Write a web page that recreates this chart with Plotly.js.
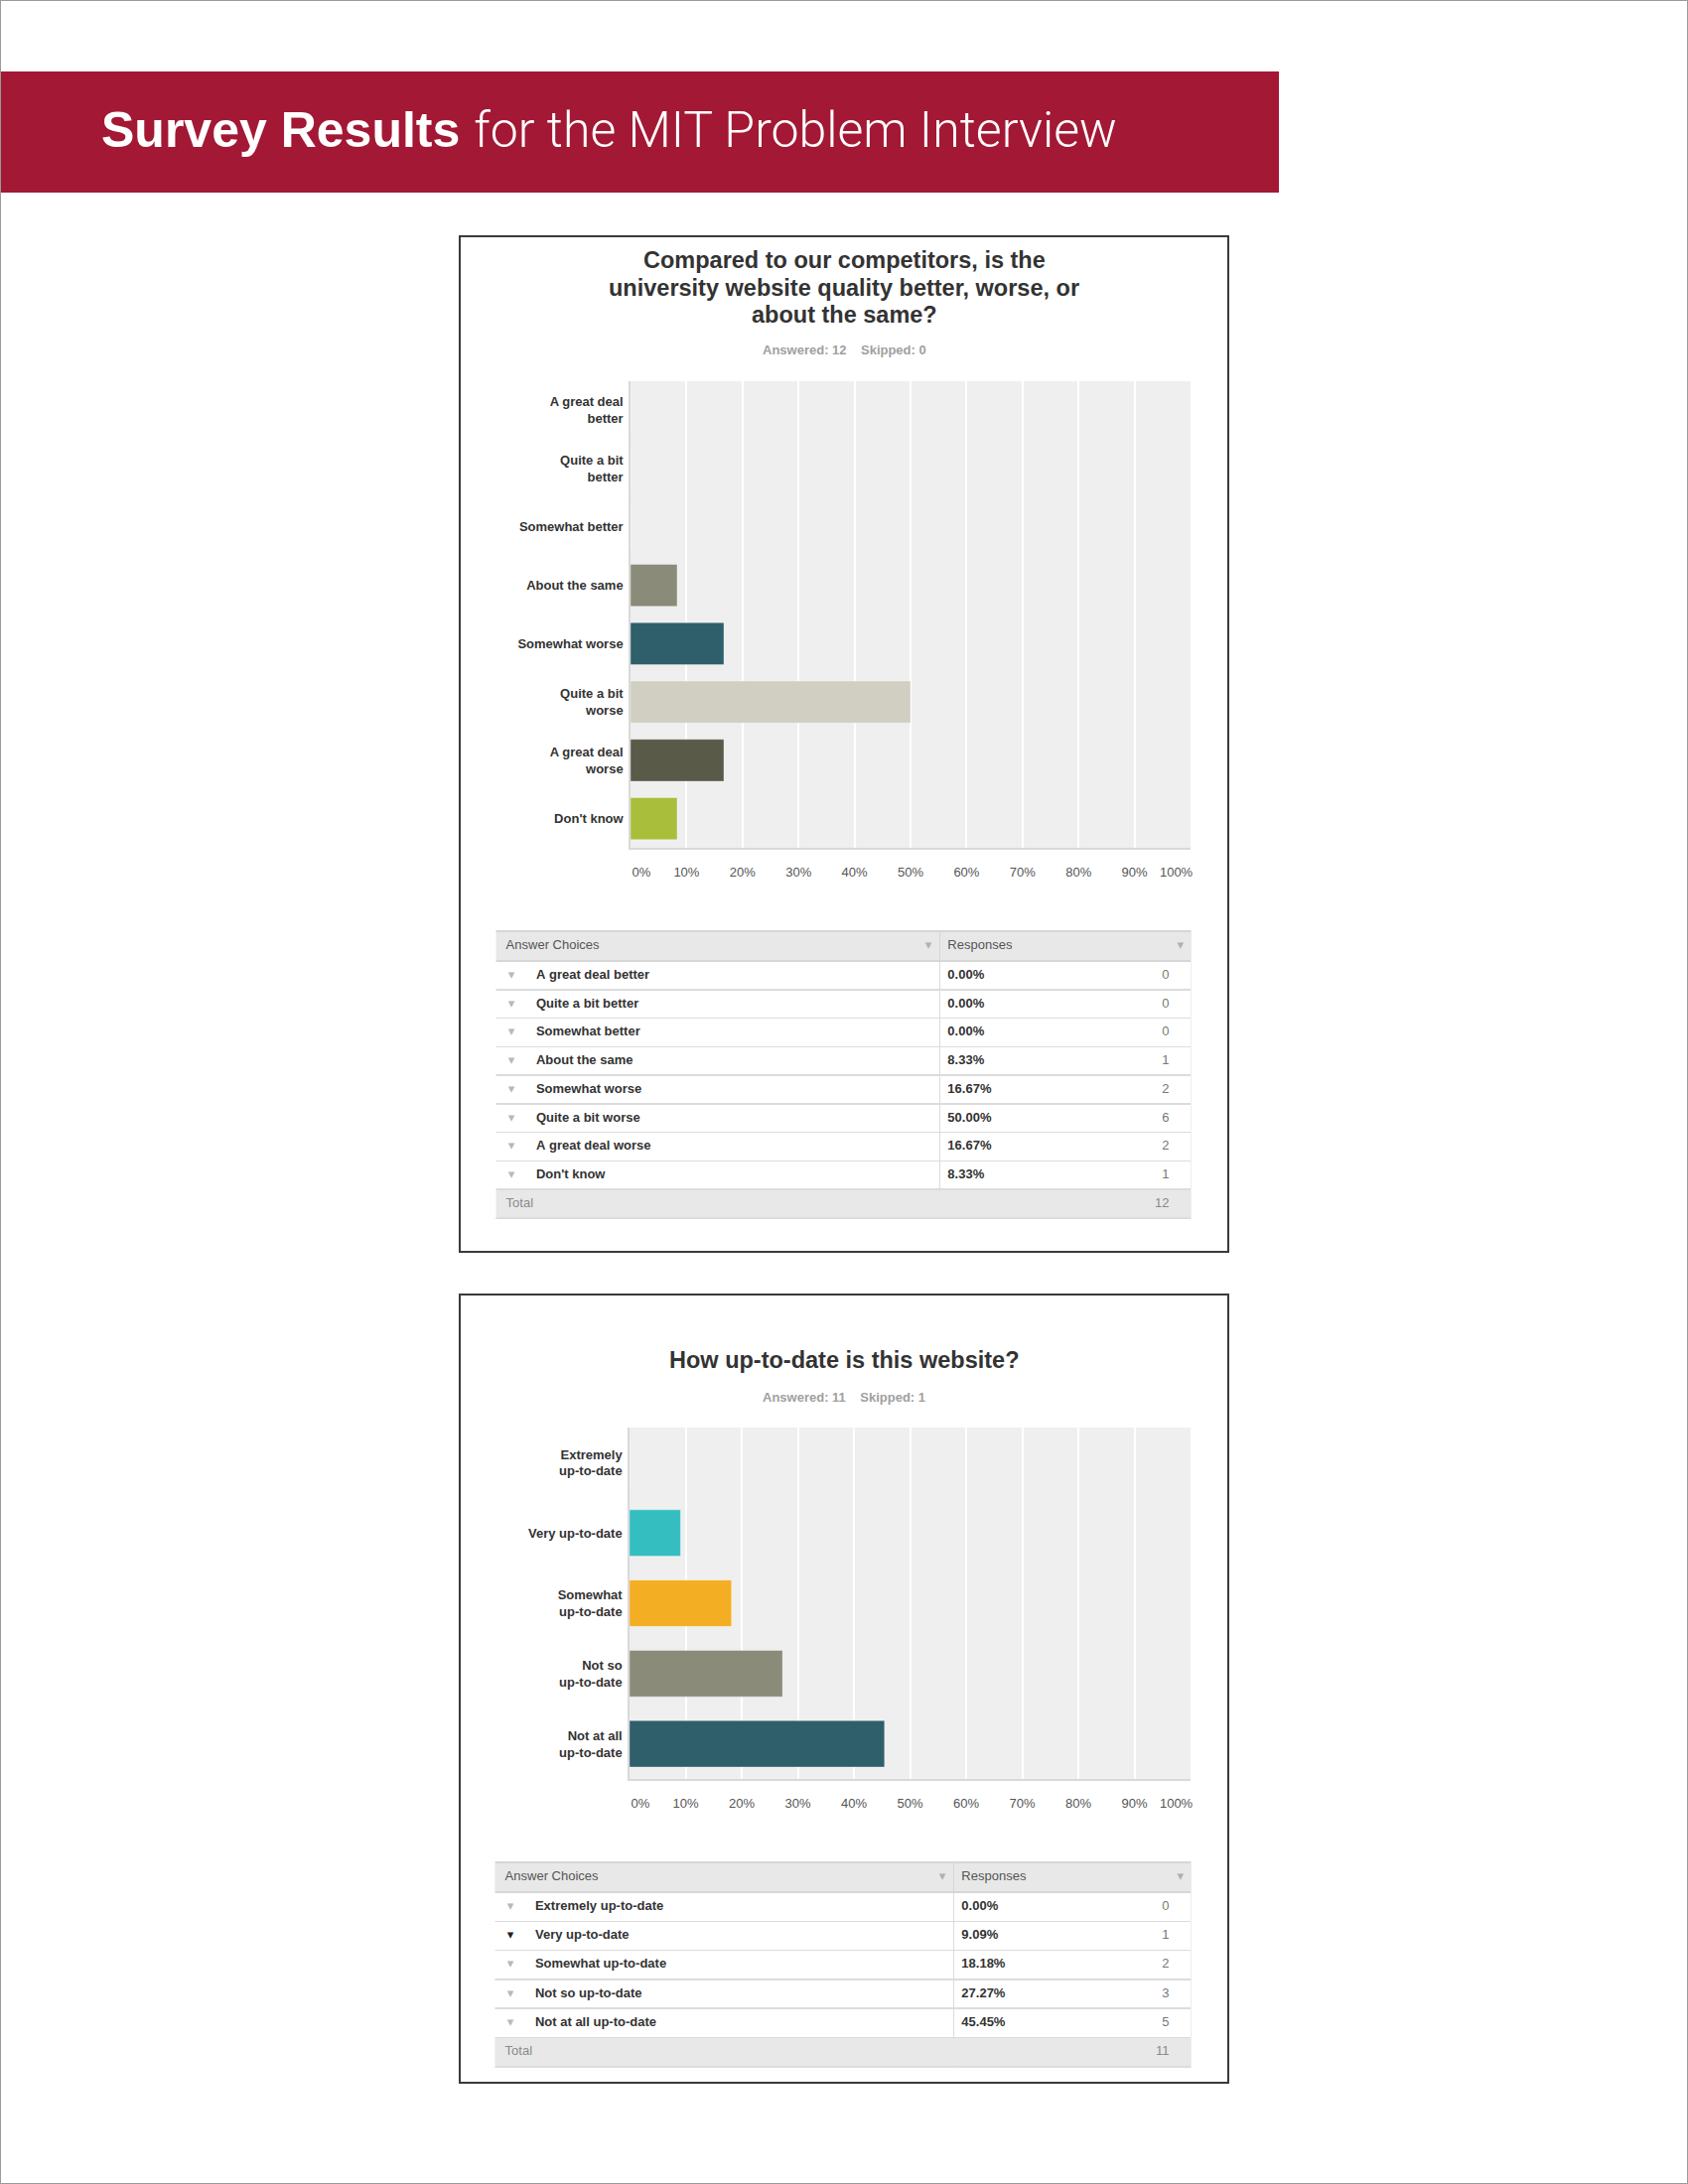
<!DOCTYPE html>
<html>
<head>
<meta charset="utf-8">
<script src="https://cdn.plot.ly/plotly-3.0.1.min.js"></script>
<style>
  html, body { margin: 0; padding: 0; background: #ffffff; }
  #chart { width: 1700px; height: 2200px; }
</style>
</head>
<body>
<div id="chart"></div>
<script>
// ---------------- DATA ----------------
const bannerBold = "Survey Results";
const bannerLight = "for the MIT Problem Interview";

const q1Title = ["Compared to our competitors, is the", "university website quality better, worse, or", "about the same?"];
const q1Answered = 12;
const q1Skipped = 0;
const q1Choices = ["A great deal better", "Quite a bit better", "Somewhat better", "About the same",
                   "Somewhat worse", "Quite a bit worse", "A great deal worse", "Don't know"];
const q1TickLabels = ["A great deal<br>better", "Quite a bit<br>better", "Somewhat better", "About the same",
                      "Somewhat worse", "Quite a bit<br>worse", "A great deal<br>worse", "Don't know"];
const q1Percent = [0.00, 0.00, 0.00, 8.33, 16.67, 50.00, 16.67, 8.33];
const q1Counts = [0, 0, 0, 1, 2, 6, 2, 1];
const q1Total = 12;

const q2Title = ["How up-to-date is this website?"];
const q2Answered = 11;
const q2Skipped = 1;
const q2Choices = ["Extremely up-to-date", "Very up-to-date", "Somewhat up-to-date", "Not so up-to-date", "Not at all up-to-date"];
const q2TickLabels = ["Extremely<br>up-to-date", "Very up-to-date", "Somewhat<br>up-to-date", "Not so<br>up-to-date", "Not at all<br>up-to-date"];
const q2Percent = [0.00, 9.09, 18.18, 27.27, 45.45];
const q2Counts = [0, 1, 2, 3, 5];
const q2Total = 11;

const xTickValues = [0, 10, 20, 30, 40, 50, 60, 70, 80, 90, 100];
const xTickLabels = ["0%", "10%", "20%", "30%", "40%", "50%", "60%", "70%", "80%", "90%", "100%"];

const tableHeaders = ["Answer Choices", "Responses"];
const totalLabel = "Total";

// ---------------- STYLE ----------------
const q1Colors = ["#8b8b7a", "#8b8b7a", "#8b8b7a", "#8b8b7a", "#2e5f6b", "#d0cfc1", "#5a5a49", "#a9be3a"];
const q2Colors = ["#35bec0", "#35bec0", "#f4ae23", "#8b8b7a", "#2e5f6b"];
const q2ExpandedRow = 1;

const W = 1700, H = 2200;
const FONT = "Liberation Sans, Arial, Helvetica, sans-serif";
const SYM_FONT = "DejaVu Sans, sans-serif";
const fx = v => v / W;
const fy = v => 1 - v / H;
const NB = n => "\u00a0".repeat(n);
const keep = s => s.replace(/ /g, "\u00a0");   // non-breaking, so the table never re-wraps rows

// layout boxes (pixels)
const panel1 = {x0: 463, x1: 1237, y0: 238, y1: 1261};
const panel2 = {x0: 463, x1: 1237, y0: 1304, y1: 2098};
const plot1 = {x0: 635, x1: 1199, y0: 384, y1: 854};
const plot2 = {x0: 634, x1: 1199, y0: 1438, y1: 1792};
const table1 = {x0: 498, x1: 1201, div: 947, y0: 938, rowH: 28.75, headH: 30};
const table2 = {x0: 497, x1: 1201, div: 961, y0: 1876, rowH: 29.3, headH: 30};
const TRI_W = 34;

// edge tick labels are justified inside the plot like the original survey tool
const xTickText = xTickLabels.map((t, i) =>
  i === 0 ? NB(6) + t : (i === xTickLabels.length - 1 ? t + NB(8) : t));

function barTrace(choices, pct, colors, xa, ya, width) {
  return {
    type: "bar", orientation: "h",
    y: choices, x: pct,
    xaxis: xa, yaxis: ya,
    width: width,
    marker: {color: colors, line: {width: 1, color: "rgba(255,255,255,0.35)"}},
    hoverinfo: "none", showlegend: false
  };
}

function tableTraces(box, choices, pct, counts, total, expandedRow) {
  const n = choices.length;
  const totalH = box.headH + (n + 1) * box.rowH + 12;
  const domain = {x: [fx(box.x0), fx(box.x1)], y: [fy(box.y0 + totalH), fy(box.y0)]};

  // grid, fills, header labels, percentages, "Total"
  const col0 = Array(n).fill("").concat([NB(1) + totalLabel]);
  const col1 = pct.map(p => `${p.toFixed(2)}%`).concat([""]);
  const fillCol = Array(n).fill("#ffffff").concat(["#e8e8e8"]);
  const fontCol = Array(n).fill("#333333").concat(["#8a8a8a"]);
  const weightCol = Array(n).fill("bold").concat(["normal"]);
  const main = {
    type: "table", domain: domain, columnwidth: [box.div - box.x0, box.x1 - box.div],
    header: {
      values: [[NB(1) + keep(tableHeaders[0])], [keep(tableHeaders[1])]],
      align: "left", height: box.headH,
      fill: {color: "#e8e8e8"},
      line: {color: "#d6d6d6", width: 1.5},
      font: {family: FONT, size: 13, color: "#555555"}
    },
    cells: {
      values: [col0, col1],
      align: "left", height: box.rowH,
      fill: {color: [fillCol, fillCol]},
      line: {color: "#dcdcdc", width: 1.5},
      font: {family: FONT, size: 13, color: [fontCol, fontCol], weight: [weightCol, weightCol]}
    },
    hoverinfo: "none"
  };

  // expand arrows, answer labels and counts (no grid)
  const tri = choices.map(() => "▾").concat([""]);
  const triCol = choices.map((c, i) => i === expandedRow ? "#222222" : "#b8b8b8").concat(["#b8b8b8"]);
  const names = choices.map(keep).concat([""]);
  const nameCol = choices.map(() => "#333333").concat(["#333333"]);
  const cnt = counts.map(c => `${c}${NB(4)}`).concat([`${total}${NB(4)}`]);
  const countCol = counts.map(() => "#777777").concat(["#8a8a8a"]);
  const overlay = {
    type: "table", domain: domain,
    columnwidth: [TRI_W, box.div - box.x0 - TRI_W, box.x1 - box.div],
    header: {
      values: [[""], ["▾"], ["▾"]],
      align: "right", height: box.headH,
      fill: {color: "rgba(0,0,0,0)"},
      line: {width: 0, color: "rgba(0,0,0,0)"},
      font: {family: SYM_FONT, size: 13, color: "#b0b0b0"}
    },
    cells: {
      values: [tri, names, cnt],
      align: ["center", "left", "right"], height: box.rowH,
      fill: {color: "rgba(0,0,0,0)"},
      line: {width: 0, color: "rgba(0,0,0,0)"},
      font: {family: [SYM_FONT, FONT, FONT], size: [13, 13, 13],
             color: [triCol, nameCol, countCol], weight: ["normal", "bold", "normal"]}
    },
    hoverinfo: "none"
  };
  return [main, overlay];
}

// the survey tables have no outer vertical rules and no divider in the total row
function tableEdgeMasks(box, n) {
  const top = box.y0, bottom = box.y0 + box.headH + (n + 1) * box.rowH;
  const totTop = box.y0 + box.headH + n * box.rowH;
  const seg = (x, y0, y1, color, w) => ({type: "line", xref: "paper", yref: "paper",
    x0: fx(x), x1: fx(x), y0: fy(y0), y1: fy(y1), line: {color: color, width: w}, layer: "above"});
  return [
    seg(box.x0, top - 1, bottom + 1, "#ffffff", 3),
    seg(box.x1, top - 1, bottom + 1, "#ffffff", 3),
    seg(box.div, totTop + 1.5, bottom - 1.5, "#e8e8e8", 3)
  ];
}

const traces = [
  barTrace(q1Choices, q1Percent, q1Colors, "x", "y", 0.72),
  barTrace(q2Choices, q2Percent, q2Colors, "x2", "y2", 0.66)
].concat(
  tableTraces(table1, q1Choices, q1Percent, q1Counts, q1Total, -1),
  tableTraces(table2, q2Choices, q2Percent, q2Counts, q2Total, q2ExpandedRow)
);

function xAxis(box) {
  return {
    domain: [fx(box.x0), fx(box.x1)],
    range: [0, 100], fixedrange: true,
    tickmode: "array", tickvals: xTickValues, ticktext: xTickText,
    showgrid: true, gridcolor: "#ffffff", gridwidth: 1.6,
    zeroline: false, showline: true, linecolor: "#d9d9d9", linewidth: 2,
    ticks: "", ticklabelstandoff: 11,
    tickfont: {family: FONT, size: 13, color: "#555555"}
  };
}
function yAxis(box, choices, labels) {
  return {
    domain: [fy(box.y1), fy(box.y0)],
    type: "category", categoryorder: "array", categoryarray: choices,
    range: [choices.length - 0.5, -0.5], fixedrange: true,
    tickmode: "array", tickvals: choices, ticktext: labels,
    showgrid: false, zeroline: false, showline: true, linecolor: "#d9d9d9", linewidth: 1.5,
    ticks: "", ticklabelstandoff: 3,
    tickfont: {family: FONT, size: 13, color: "#333333", weight: "bold"}
  };
}

const shapes = [
  {type: "rect", xref: "paper", yref: "paper", x0: 0, x1: 1, y0: 0, y1: 1, line: {color: "#9a9a9a", width: 2}, layer: "above"},
  {type: "rect", xref: "paper", yref: "paper", x0: 0, x1: fx(1288), y0: fy(194), y1: fy(72), fillcolor: "#a31834", line: {width: 0}, layer: "below"},
  {type: "rect", xref: "paper", yref: "paper", x0: fx(panel1.x0), x1: fx(panel1.x1), y0: fy(panel1.y1), y1: fy(panel1.y0), line: {color: "#3a3a3a", width: 2}},
  {type: "rect", xref: "paper", yref: "paper", x0: fx(panel2.x0), x1: fx(panel2.x1), y0: fy(panel2.y1), y1: fy(panel2.y0), line: {color: "#3a3a3a", width: 2}}
].concat(tableEdgeMasks(table1, q1Choices.length), tableEdgeMasks(table2, q2Choices.length));

const cx = fx((panel1.x0 + panel1.x1) / 2);
const TITLE_FONT = {family: FONT, size: 23.5, color: "#333333", weight: "bold"};
const SUB_FONT = {family: FONT, size: 13, color: "#a0a0a0", weight: "bold"};
const annotations = [
  {xref: "paper", yref: "paper", x: fx(100), y: fy(131), xanchor: "left", yanchor: "middle", showarrow: false,
   text: `<b>${bannerBold}</b> <span style="font-family:Roboto, Liberation Sans, sans-serif;font-weight:300">${bannerLight}</span>`,
   font: {family: FONT, size: 50, color: "#ffffff"}}
];
q1Title.forEach((line, i) => annotations.push(
  {xref: "paper", yref: "paper", x: cx, y: fy(262 + i * 27.5), xanchor: "center", yanchor: "middle", showarrow: false,
   text: line, font: TITLE_FONT}));
q2Title.forEach((line, i) => annotations.push(
  {xref: "paper", yref: "paper", x: cx, y: fy(1370 + i * 27.5), xanchor: "center", yanchor: "middle", showarrow: false,
   text: line, font: TITLE_FONT}));
annotations.push(
  {xref: "paper", yref: "paper", x: cx, y: fy(353), xanchor: "center", yanchor: "middle", showarrow: false,
   text: `Answered: ${q1Answered}${NB(4)}Skipped: ${q1Skipped}`, font: SUB_FONT},
  {xref: "paper", yref: "paper", x: cx, y: fy(1407), xanchor: "center", yanchor: "middle", showarrow: false,
   text: `Answered: ${q2Answered}${NB(4)}Skipped: ${q2Skipped}`, font: SUB_FONT}
);

const layout = {
  width: W, height: H,
  margin: {l: 0, r: 0, t: 0, b: 0, pad: 0},
  paper_bgcolor: "#ffffff", plot_bgcolor: "#efefef",
  font: {family: FONT, size: 13, color: "#333333"},
  showlegend: false,
  xaxis: Object.assign(xAxis(plot1), {anchor: "y"}),
  yaxis: Object.assign(yAxis(plot1, q1Choices, q1TickLabels), {anchor: "x"}),
  xaxis2: Object.assign(xAxis(plot2), {anchor: "y2"}),
  yaxis2: Object.assign(yAxis(plot2, q2Choices, q2TickLabels), {anchor: "x2"}),
  shapes: shapes,
  annotations: annotations
};

Plotly.newPlot("chart", traces, layout, {displayModeBar: false, responsive: false});
</script>
</body>
</html>
